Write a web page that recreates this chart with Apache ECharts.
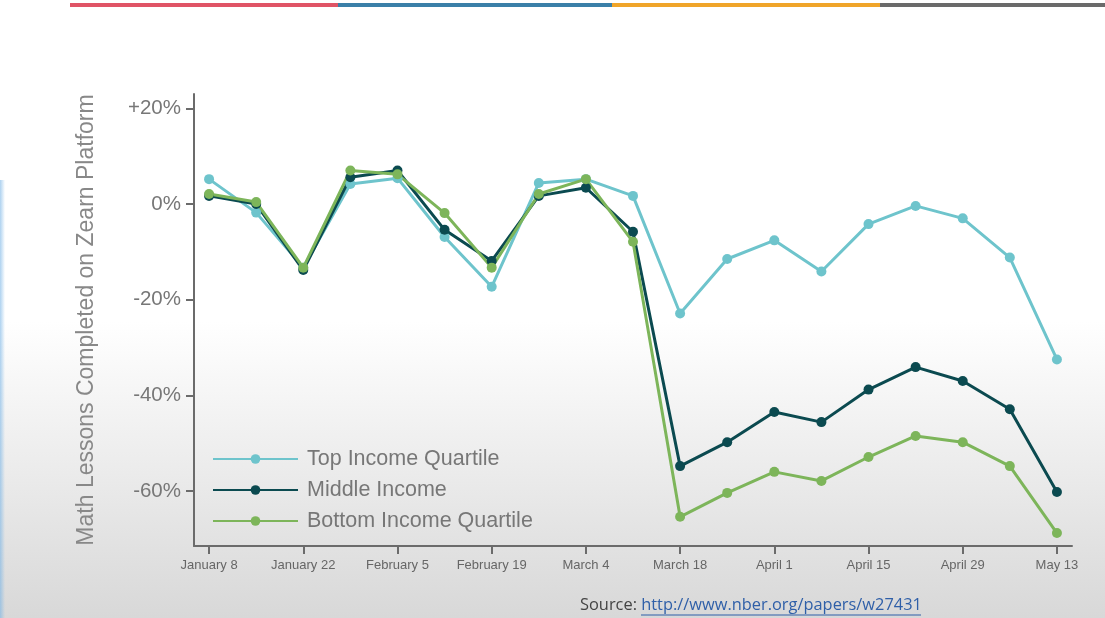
<!DOCTYPE html>
<html>
<head>
<meta charset="utf-8">
<script src="https://cdn.jsdelivr.net/npm/echarts@6/dist/echarts.min.js"></script>
<style>
html,body{margin:0;padding:0;background:#fff;}
#chart{width:1105px;height:618px;}
</style>
</head>
<body>
<div id="chart"></div>
<script>
const weeks = ["January 8","January 15","January 22","January 29","February 5","February 12","February 19","February 26","March 4","March 11","March 18","March 25","April 1","April 8","April 15","April 22","April 29","May 6","May 13"];
const xTickIdx = [0,2,4,6,8,10,12,14,16,18];
const topIncome = [5.2,-1.8,-13.3,4.2,5.4,-6.9,-17.3,4.4,5.2,1.7,-22.9,-11.5,-7.6,-14.1,-4.2,-0.4,-3.0,-11.2,-32.5];
const middleIncome = [1.7,0.0,-13.8,5.6,7.0,-5.4,-11.9,1.7,3.4,-5.8,-54.8,-49.8,-43.5,-45.6,-38.8,-34.1,-37.0,-42.9,-60.2];
const bottomIncome = [2.1,0.4,-13.3,7.0,6.2,-1.9,-13.3,2.1,5.2,-7.9,-65.4,-60.4,-56.0,-57.9,-52.9,-48.5,-49.8,-54.8,-68.8];
const yTicks = [20,0,-20,-40,-60];

const chart = echarts.init(document.getElementById('chart'), null, {renderer:'canvas'});
const mkSeries = (name, vals, color) => ({
  name, type:'line', data: vals.map((v,i)=>[i,v]), symbol:'circle', symbolSize:10,
  lineStyle:{color, width:3}, itemStyle:{color}, animation:false
});
const axisGray = '#6b6b6b';
chart.setOption({
  animation:false,
  graphic:[
    {type:'rect', z:-10, silent:true, shape:{x:0,y:0,width:1105,height:618},
     style:{fill:{type:'linear',x:0,y:0,x2:0,y2:1,colorStops:[
       {offset:0,color:'#ffffff'},{offset:0.52,color:'#ffffff'},{offset:1,color:'#d8d8d8'}]}}},
    {type:'rect', z:-9, silent:true, shape:{x:0,y:180,width:5,height:438},
     style:{fill:{type:'linear',x:0,y:0,x2:1,y2:0,colorStops:[
       {offset:0,color:'rgba(120,180,230,0.6)'},{offset:1,color:'rgba(120,180,230,0)'}]}}},
    {type:'rect', silent:true, shape:{x:70,y:3,width:268,height:4}, style:{fill:'#e05466'}},
    {type:'rect', silent:true, shape:{x:338,y:3,width:274,height:4}, style:{fill:'#3a7fa8'}},
    {type:'rect', silent:true, shape:{x:612,y:3,width:268,height:4}, style:{fill:'#f0a52a'}},
    {type:'rect', silent:true, shape:{x:880,y:3,width:225,height:4}, style:{fill:'#6a6a6a'}},
    {type:'text', left:580, top:597, silent:true,
     style:{text:'{a|Source: }{b|http://www.nber.org/papers/w27431}',
       rich:{a:{fill:'#444',fontSize:16.4,fontFamily:'Open Sans'},
             b:{fill:'#2f5fa8',fontSize:16.4,fontFamily:'Open Sans'}}}},
    {type:'line', silent:true, shape:{x1:641,y1:615,x2:921,y2:615}, style:{stroke:'#2f5fa8',lineWidth:1}}
  ],
  grid:{left:194, right:33, top:94, bottom:72, containLabel:false},
  legend:{
    left:207, top:443, orient:'vertical', itemWidth:85, itemHeight:12, itemGap:9,
    textStyle:{color:'#777', fontSize:21.5, fontFamily:'Liberation Sans', padding:[0,0,0,4]},
    data:['Top Income Quartile','Middle Income','Bottom Income Quartile']
  },
  xAxis:{
    type:'value', min:-0.32, max:18.32,
    splitLine:{show:false},
    axisLine:{onZero:false, lineStyle:{color:axisGray, width:2}},
    axisTick:{show:true, customValues:xTickIdx, length:8, lineStyle:{color:axisGray, width:2}},
    axisLabel:{customValues:xTickIdx, color:'#666', fontSize:13, margin:13, fontFamily:'Liberation Sans',
      formatter:v => weeks[Math.round(v)]}
  },
  yAxis:{
    type:'value', min:-71.5, max:23,
    name:'Math Lessons Completed on Zearn Platform', nameLocation:'middle', nameGap:96,
    nameTextStyle:{color:'#888', fontSize:23, fontFamily:'Liberation Sans'},
    splitLine:{show:false},
    axisLine:{show:true, onZero:false, lineStyle:{color:axisGray, width:2}},
    axisTick:{show:true, length:8, customValues:yTicks, lineStyle:{color:axisGray, width:2}},
    axisLabel:{customValues:yTicks, color:'#777', fontSize:20.5, fontFamily:'Liberation Sans', margin:13,
      formatter:v => (v>0?'+':'') + v + '%'}
  },
  series:[
    mkSeries('Top Income Quartile', topIncome, '#6ec4cc'),
    mkSeries('Middle Income', middleIncome, '#0b4a50'),
    mkSeries('Bottom Income Quartile', bottomIncome, '#7db55a')
  ]
});
</script>
</body>
</html>
